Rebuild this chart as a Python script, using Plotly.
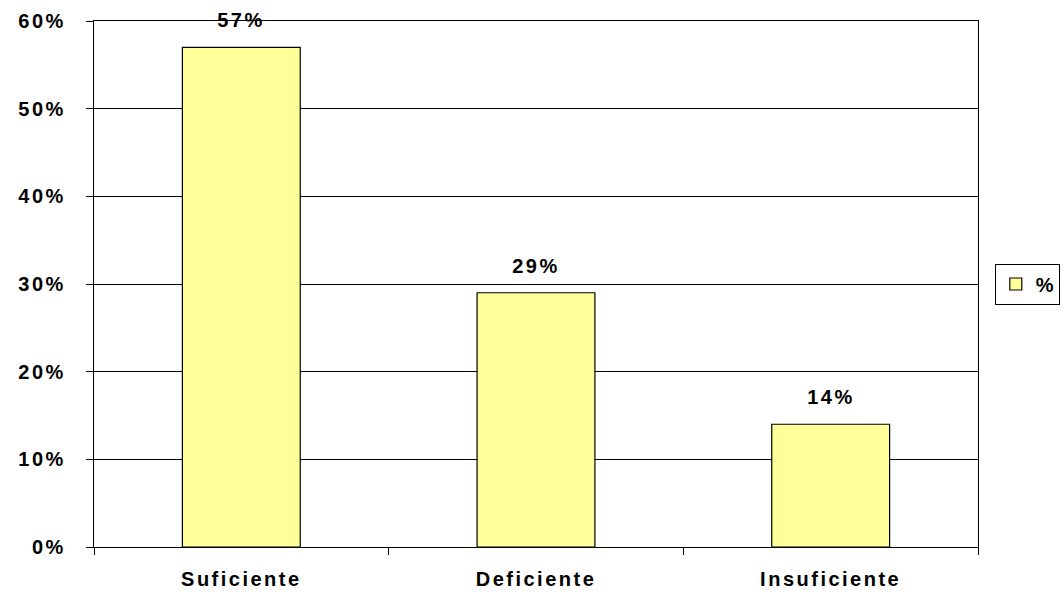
import plotly.graph_objects as go

categories = ["Suficiente", "Deficiente", "Insuficiente"]
values = [0.57, 0.29, 0.14]
value_labels = ["57%", "29%", "14%"]
series_name = "%"

FONT = "Liberation Sans"
fig = go.Figure()
fig.add_trace(go.Bar(
    x=categories, y=values, name=series_name,
    marker=dict(color="#FFFF99", line=dict(color="black", width=1.2)),
    width=0.4, showlegend=True,
))
for c, v, t in zip(categories, values, value_labels):
    fig.add_annotation(x=c, y=v, text=t, showarrow=False, yanchor="bottom",
                       yshift=14, font=dict(family=FONT, size=20, color="black", weight="bold"))

fig.update_layout(
    width=1064, height=595,
    margin=dict(l=94, r=86, t=21, b=48, autoexpand=False),
    paper_bgcolor="white", plot_bgcolor="white",
    font=dict(family=FONT, size=20, color="black", weight="bold"),
    bargap=0.6,
    legend=dict(x=1.019, y=0.5, xanchor="left", yanchor="middle",
                bordercolor="black", borderwidth=1, bgcolor="white",
                font=dict(family=FONT, size=20, color="black", weight="bold"),
                itemwidth=30),
    xaxis=dict(showline=True, linecolor="black", linewidth=1.2, mirror=True,
               ticks="outside", tickson="boundaries", ticklen=7, tickcolor="black",
               ticklabelstandoff=14, showgrid=False),
    yaxis=dict(range=[0, 0.6], dtick=0.1, tickformat=".0%", showline=True,
               linecolor="black", linewidth=1.2, mirror=True, ticks="outside",
               ticklen=7, tickcolor="black", showgrid=True, gridcolor="black",
               gridwidth=1.2, zeroline=False, ticklabelstandoff=16),
)

post = ("var s=document.createElement('style');"
        "s.innerHTML='body{margin:0 !important;} .main-svg text{letter-spacing:2.5px}';"
        "document.head.appendChild(s);")
fig.write_html("out.html", post_script=post, config={"displayModeBar": False})
